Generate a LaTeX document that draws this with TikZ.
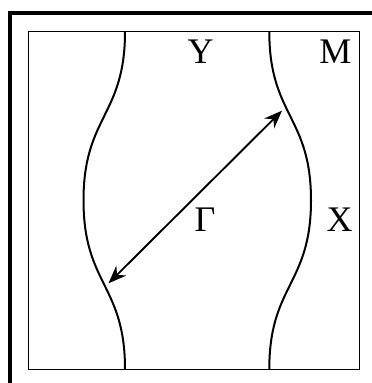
\documentclass[tikz,border=0pt]{standalone}
\usepackage{fontspec}
\setmainfont{Liberation Serif}
\usetikzlibrary{arrows.meta}
\begin{document}
\begin{tikzpicture}[x=1pt,y=-1pt,
  curve/.style={line width=2pt},
  frame/.style={line width=4pt},
  box/.style={line width=0.9pt},
  tipstyle/.style={line width=1.9pt,{Stealth[length=18pt,width=14pt,inset=6pt]}-{Stealth[length=18pt,width=14pt,inset=6pt]}},
  lbl/.style={anchor=base,inner sep=0pt,font=\fontsize{36}{40}\selectfont}]
\useasboundingbox (0,0) rectangle (372,383);
\clip (0,0) rectangle (372,383);
\draw[frame] (10,400) -- (10,13) -- (390,13);
\draw[box] (28,31.7) rectangle (359.3,369);
\draw[curve] (125,31.7) .. controls (125,116) and (83.5,116) .. (83.5,200.35)
  .. controls (83.5,284.7) and (125,284.7) .. (125,369);
\draw[curve] (269.3,31.7) .. controls (269.3,116) and (311,116) .. (311,200.35)
  .. controls (311,284.7) and (269.3,284.7) .. (269.3,369);
\coordinate (p) at (108.5,283.3);
\coordinate (q) at (282,110.7);
\draw[tipstyle] (p) -- (q);
\node[lbl] (Y) at (200.5,63.3) {Y};
\node[lbl] (M) at (335.5,63.3) {M};
\node[lbl] (X) at (339.5,231.5) {X};
\node[lbl] (G) at (205,231.5) {Γ};
\end{tikzpicture}
\end{document}
